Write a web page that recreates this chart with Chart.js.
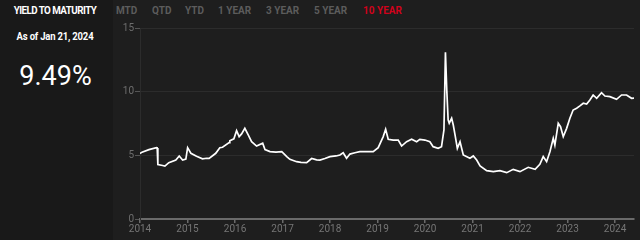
<!DOCTYPE html>
<html><head><meta charset="utf-8">
<script src="https://cdn.jsdelivr.net/npm/chart.js@4.4.1/dist/chart.umd.min.js"></script>
<style>
html,body{margin:0;padding:0;width:640px;height:240px;overflow:hidden;background:#1e1e1e;font-family:Roboto,"Open Sans",sans-serif;}
#left{position:absolute;left:0;top:0;width:113px;height:240px;background:#191919;}
#title{position:absolute;left:0;top:4px;width:110px;text-align:center;color:#fff;font-weight:700;font-size:11px;letter-spacing:-0.6px;transform:scaleX(0.89);}
#asof{position:absolute;left:0;top:31px;width:110px;text-align:center;color:#fff;font-weight:700;font-size:10px;letter-spacing:-0.2px;transform:scaleX(0.95);}
#ytm{position:absolute;left:0;top:60px;width:111px;text-align:center;color:#fff;font-weight:400;font-size:27px;}
#nav{position:absolute;left:116px;top:5px;height:14px;}
#nav span{position:absolute;top:0;white-space:nowrap;color:#5c5c5c;font-weight:700;font-size:10px;}
#nav span.on{color:#d0021b;}
#wrap{position:absolute;left:113px;top:18px;width:527px;height:222px;}
</style></head>
<body>
<div id="left"><div id="title"></div><div id="asof"></div><div id="ytm"></div></div>
<div id="nav"></div>
<div id="wrap"><canvas id="c" width="527" height="222"></canvas></div>
<script>
// ---- data ----
const titleText = "YIELD TO MATURITY";
const asOfText = "As of Jan 21, 2024";
const currentYield = "9.49%";
const navLabels = ["MTD","QTD","YTD","1 YEAR","3 YEAR","5 YEAR","10 YEAR"];
const activeNav = "10 YEAR";
const startDate = "2014-01-21";
const dates = [
"2014-01-21","2014-02-05","2014-03-28","2014-05-23","2014-05-28","2014-06-02","2014-07-07","2014-07-24","2014-08-22","2014-10-13",
"2014-11-07","2014-12-02","2014-12-26","2015-01-08","2015-02-01","2015-03-15","2015-04-28","2015-05-28","2015-06-16","2015-08-04",
"2015-09-03","2015-09-23","2015-11-11","2015-11-16","2015-12-16","2016-01-05","2016-01-24","2016-02-11","2016-03-06","2016-03-31",
"2016-04-25","2016-06-01","2016-07-16","2016-08-02","2016-09-08","2016-10-22","2016-12-04","2017-01-10","2017-02-02","2017-03-24",
"2017-04-25","2017-06-06","2017-07-13","2017-08-19","2017-09-12","2017-10-19","2017-11-25","2018-01-09","2018-02-07","2018-03-03",
"2018-03-28","2018-04-22","2018-05-29","2018-07-04","2018-08-23","2018-10-11","2018-11-17","2018-12-24","2019-01-11","2019-01-30",
"2019-03-08","2019-04-14","2019-05-09","2019-06-15","2019-07-22","2019-08-28","2019-09-21","2019-10-28","2019-12-04","2019-12-28",
"2020-02-03","2020-02-28","2020-03-17","2020-03-28","2020-04-07","2020-04-17","2020-04-25","2020-05-13","2020-05-25","2020-06-07",
"2020-06-24","2020-07-14","2020-08-07","2020-09-25","2020-10-20","2020-11-14","2020-12-09","2021-01-27","2021-03-17","2021-05-05",
"2021-06-24","2021-08-11","2021-09-30","2021-11-30","2022-01-20","2022-02-24","2022-03-21","2022-04-15","2022-05-10","2022-06-03",
"2022-06-15","2022-07-10","2022-07-27","2022-08-16","2022-09-10","2022-10-04","2022-10-28","2022-11-23","2022-12-17","2023-01-11",
"2023-02-05","2023-03-01","2023-03-25","2023-04-20","2023-05-26","2023-06-20","2023-07-27","2023-09-14","2023-10-21","2023-11-27",
"2024-01-03","2024-01-21"];
const yields = [
5.15,5.25,5.45,5.60,5.58,4.28,4.20,4.16,4.42,4.63,
4.95,4.63,4.70,5.60,5.16,4.92,4.72,4.77,4.76,5.16,
5.60,5.63,6.00,6.15,6.30,6.94,6.47,6.68,7.12,6.60,
6.07,5.73,5.95,5.45,5.29,5.25,5.29,4.90,4.69,4.50,
4.45,4.42,4.75,4.65,4.63,4.75,4.90,4.95,5.03,5.20,
4.77,5.10,5.20,5.29,5.29,5.29,5.60,6.47,7.05,6.26,
6.20,6.20,5.73,6.07,6.26,6.07,6.26,6.20,6.07,5.68,
5.55,5.68,7.00,13.10,10.10,7.78,7.52,7.91,7.38,6.60,
5.55,6.07,5.03,4.77,4.95,4.63,4.16,3.80,3.72,3.80,
3.64,3.90,3.72,4.06,3.90,4.30,4.90,4.50,5.30,6.34,
5.81,7.52,7.25,6.47,7.12,7.91,8.56,8.70,8.88,9.09,
9.03,9.35,9.74,9.48,9.92,9.66,9.61,9.40,9.74,9.74,
9.48,9.49];
const xTickLabels = ["2014","2015","2016","2017","2018","2019","2020","2021","2022","2023","2024"];
const yTicks = [0,5,10,15];

// ---- page text ----
document.getElementById('title').textContent = titleText;
document.getElementById('asof').textContent = asOfText;
document.getElementById('ytm').textContent = currentYield;
const navLefts = [0,36,69,102,150,198,247];
const nav = document.getElementById('nav');
navLabels.forEach((t,i)=>{const s=document.createElement('span');s.textContent=t;s.style.left=navLefts[i]+'px';if(t===activeNav)s.className='on';nav.appendChild(s);});

// ---- chart ----
const YEAR_MS = 365.25*864e5;
const t0 = Date.parse(startDate);
const pts = dates.map((d,i)=>({x:(Date.parse(d)-t0)/YEAR_MS, y:yields[i]}));
const xMax = pts[pts.length-1].x;
const TICK_GAP = 0.9615; // axis tick spacing (years) as drawn in the reference
const font = {family:'Roboto, sans-serif', size:10};

new Chart(document.getElementById('c'), {
  type:'line',
  data:{datasets:[{data:pts, borderColor:'#ffffff', borderWidth:1.7, pointRadius:0, tension:0, fill:false}]},
  options:{
    responsive:false, animation:false, events:[],
    layout:{padding:{top:10,right:6,left:0,bottom:0}},
    plugins:{legend:{display:false}, tooltip:{enabled:false}},
    scales:{
      x:{type:'linear', min:0, max:xMax,
        afterBuildTicks:(s)=>{s.ticks = xTickLabels.map((l,i)=>({value:i*TICK_GAP}));},
        afterFit:(s)=>{s.height=21;},
        ticks:{color:'#757575', font, padding:0, maxRotation:0, autoSkip:false,
          callback:(v,i)=>xTickLabels[i]},
        grid:{drawOnChartArea:false, drawTicks:true, tickLength:4, tickColor:'#6a6a6a', lineWidth:1.5},
        border:{display:true, color:'#6a6a6a', width:2}
      },
      y:{type:'linear', min:0, max:15,
        afterBuildTicks:(s)=>{s.ticks = yTicks.map(v=>({value:v}));},
        afterFit:(s)=>{s.width=27;},
        ticks:{color:'#6e6e6e', font, padding:1},
        grid:{color:'#2c2c2c', lineWidth:1, tickLength:5, tickColor:'#555555'},
        border:{display:true, color:'#2c2c2c', width:1}
      }
    }
  }
});
</script>
</body></html>
